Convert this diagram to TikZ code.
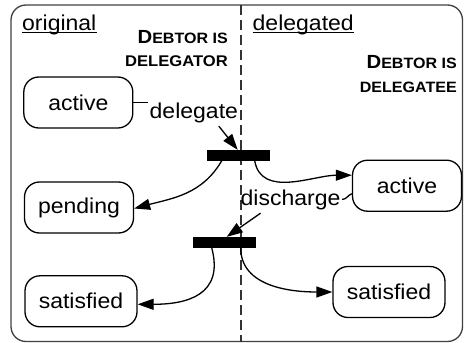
\documentclass[tikz,border=0pt]{standalone}
\usepackage{fontspec}
\setmainfont[FakeStretch=1.07]{Liberation Sans}
\usetikzlibrary{arrows.meta,calc}
\tikzset{
  state/.style={draw, line width=1.3pt, rounded corners=15pt, minimum width=109pt,
    minimum height=51pt, font=\fontsize{21.5}{25}\selectfont, inner sep=0pt},
  syncbar/.style={fill=black, minimum width=63pt, minimum height=10.5pt, inner sep=0pt},
  lbl/.style={font=\fontsize{21.5}{25}\selectfont, inner sep=1.5pt},
  conn/.style={line width=1.3pt, -{Triangle[length=16pt,width=11pt]}},
  plain/.style={line width=1.3pt},
  region/.style={font=\fontsize{21.5}{25}\selectfont, inner sep=0pt, anchor=base west},
  role/.style={font=\bfseries, inner sep=0pt, anchor=base east},
  divider/.style={line width=1.1pt, black!80, dash pattern=on 10pt off 5pt},
}
\newcommand\capD[1]{{\fontsize{19}{21}\selectfont #1}}
\newcommand\lowC[1]{{\fontsize{15}{17}\selectfont #1}}
\begin{document}
\begin{tikzpicture}[x=1pt,y=-1pt]
\useasboundingbox (0,0) rectangle (464,343);
% frame and swimlane divider
\draw[line width=1.3pt, black!75, rounded corners=15pt] (11,5) rectangle (462.5,341.5);
\coordinate (dtop) at (241,5);
\coordinate (dbot) at (241,341.5);
\draw[divider] (dtop) -- (dbot);

% lane titles
\node[region] (orig) at (22,30) {original};
\draw[plain] ([yshift=-2.5pt]orig.base west) -- ([yshift=-2.5pt]orig.base east);
\node[region] (dlgd) at (252.5,30) {delegated};
\draw[plain] ([yshift=-2.5pt]dlgd.base west) -- ([yshift=-2.5pt]dlgd.base east);

% roles
\node[role] (rl1) at (228,43) {\capD{D}\lowC{EBTOR IS}};
\node[role] (rl2) at (228,66) {\fontsize{15.5}{17}\selectfont DELEGATOR};
\node[role] (rr1) at (457,68) {\capD{D}\lowC{EBTOR IS}};
\node[role] (rr2) at (457,92) {\fontsize{15}{17}\selectfont DELEGATEE};

% states
\node[state] (activeL) at (78.3,102.5) {active};
\node[state] (pending) at (79,207.5) {pending};
\node[state] (activeR) at (407,185.7) {active};
\node[state, minimum width=112pt] (satL) at (81,301.3) {satisfied};
\node[state, minimum width=112pt] (satR) at (389,292) {satisfied};

% fork bars
\node[syncbar] (bar1) at (238.7,155.3) {};
\node[syncbar] (bar2) at (224.7,242.3) {};

% delegate transition
\node[lbl, anchor=base west] (dlg) at (148,118) {delegate};
\draw[plain] (activeL.east) -- (activeL.east -| dlg.west);
\draw[conn] ($(dlg.south)+(25,2)$) -- ($(bar1.north)+(-1,0)$);
\draw[conn] ($(bar1.south)+(-17,0)$) to[out=-120, in=15] ($(pending.east)+(0,1)$);
\draw[conn] ($(bar1.south)+(16,0)$) to[out=-80, in=180] ($(activeR.west)+(0,-10.5)$);

% discharge transition
\node[lbl, anchor=base west] (dch) at (239,205) {discharge};
\draw[plain] (dch.east) to[out=0, in=200] ($(activeR.west)+(0,8)$);
\draw[conn] ($(dch.south)+(-30,2)$) -- ($(bar2.north)+(2,0)$);
\draw[conn] ($(bar2.south)+(-13,0)$) to[out=-75, in=0, looseness=1.35] ($(satL.east)+(0,3)$);
\draw[conn] ($(bar2.south)+(16,0)$) to[out=-90, in=180] (satR.west);
\end{tikzpicture}
\end{document}
